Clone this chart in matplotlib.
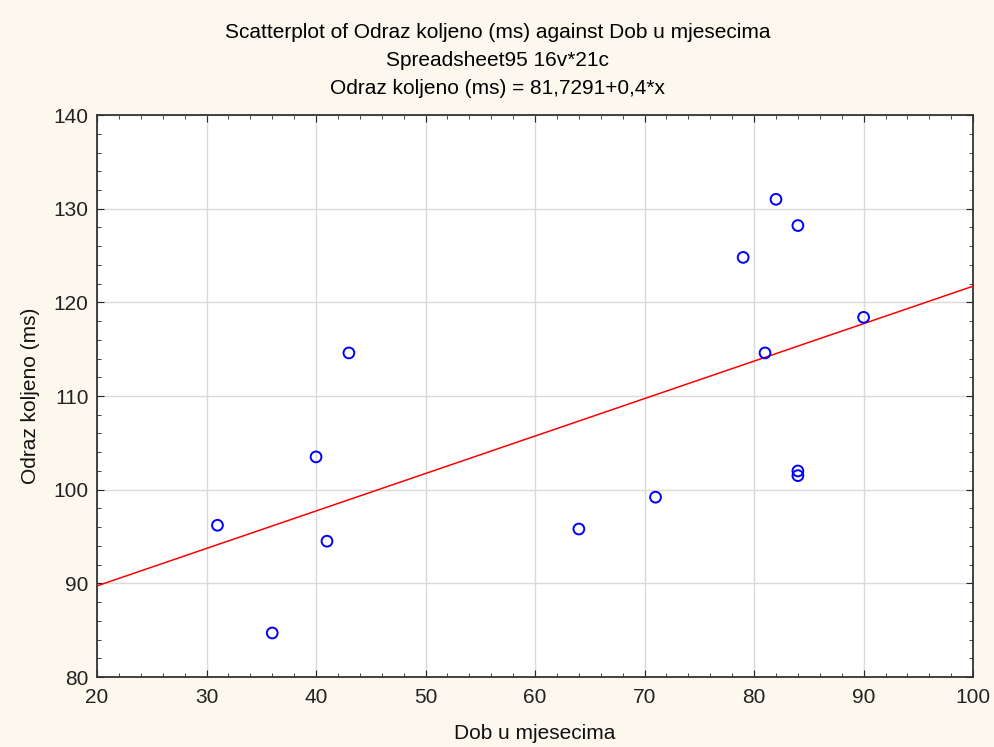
import matplotlib
matplotlib.use("Agg")
import matplotlib.pyplot as plt
from matplotlib.ticker import MultipleLocator
import numpy as np

plt.rcParams['font.family'] = ['Liberation Sans', 'DejaVu Sans']

age_months = [31, 36, 40, 41, 43, 64, 71, 79, 81, 82, 84, 84, 84, 90]
knee_ms = [96.2, 84.7, 103.5, 94.5, 114.6, 95.8, 99.2, 124.8, 114.6, 131.0, 128.2, 102.0, 101.5, 118.4]
intercept = 81.7291
slope = 0.4

fig = plt.figure(figsize=(9.95, 7.47), dpi=100, facecolor='#FDF8EE')
ax = fig.add_axes([0.0975, 0.0937, 0.8805, 0.7523])
ax.set_facecolor('white')

ax.set_xlim(20, 100)
ax.set_ylim(80, 140)
ax.xaxis.set_major_locator(MultipleLocator(10))
ax.yaxis.set_major_locator(MultipleLocator(10))
ax.xaxis.set_minor_locator(MultipleLocator(2))
ax.yaxis.set_minor_locator(MultipleLocator(2))
ax.grid(True, which='major', color='#DADADA', linewidth=1)
ax.set_axisbelow(True)

xl = np.array([20, 100])
ax.plot(xl, intercept + slope * xl, color='#FF0000', linewidth=1.1, zorder=3)
ax.scatter(age_months, knee_ms, s=60, facecolors='none', edgecolors='#0000FF', linewidths=1.4, zorder=4)

ax.tick_params(which='both', direction='in', top=True, right=True, labelsize=15, colors='#222222')
ax.tick_params(axis='x', pad=8)
ax.tick_params(axis='y', pad=6)
ax.tick_params(which='major', length=5)
ax.tick_params(which='minor', length=3)
for s in ax.spines.values():
    s.set_color('#333333')
    s.set_linewidth(1.3)

ax.set_xlabel('Dob u mjesecima', fontsize=15, labelpad=12, color='#111111')
ax.set_ylabel('Odraz koljeno (ms)', fontsize=15, labelpad=10, color='#111111')

fig.text(0.5, 1 - 33/747, 'Scatterplot of Odraz koljeno (ms) against Dob u mjesecima', ha='center', va='center', fontsize=15)
fig.text(0.5, 1 - 60/747, 'Spreadsheet95 16v*21c', ha='center', va='center', fontsize=15)
fig.text(0.5, 1 - 88/747, 'Odraz koljeno (ms) = 81,7291+0,4*x', ha='center', va='center', fontsize=15)

fig.savefig('out.png', dpi=100, facecolor=fig.get_facecolor())
